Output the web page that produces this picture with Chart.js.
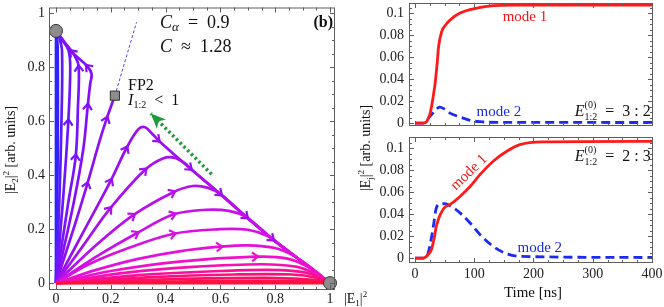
<!DOCTYPE html>
<html>
<head>
<meta charset="utf-8">
<script src="https://cdn.jsdelivr.net/npm/chart.js@4.4.1/dist/chart.umd.min.js"></script>
<style>
  html, body { margin: 0; padding: 0; background: #fff; }
  #wrap { position: relative; width: 664px; height: 307px; overflow: hidden; }
  canvas { position: absolute; }
</style>
</head>
<body>
<div id="wrap">
  <canvas id="flow" width="375" height="307" style="left:0;top:0"></canvas>
  <canvas id="top" width="289" height="132" style="left:375px;top:0"></canvas>
  <canvas id="bottom" width="289" height="175" style="left:375px;top:132px"></canvas>
</div>
<script>
const SERIF = '"Liberation Serif", "DejaVu Serif", serif';
const F = (size, style) => (style ? style + ' ' : '') + size + 'px ' + SERIF;

// tick labels
const phaseTicks = [0, 0.2, 0.4, 0.6, 0.8, 1];
const timeTicks = [0, 100, 200, 300, 400];
const powerTicks = [0, 0.02, 0.04, 0.06, 0.08, 0.1];

// left panel, phase plane (|E1|^2, |E2|^2)
const fixedPoints = [[0, 0.935], [1, 0]];
const saddleFP2 = [[0.215, 0.695]];
const fp2Guide = [[0.215, 0.695], [0.294, 0.967]];
const greenArrow = [[0.568, 0.404], [0.346, 0.629]];

// trajectories ending in mode 2
const up0 = [[0, 0], [0, 0.935]];
const up0b = [[0, 0], [0.006, 0.45], [0.006, 0.88], [0, 0.935]];
const up1 = [[0, 0], [0.012, 0.3], [0.02, 0.6], [0.022, 0.86], [0.012, 0.91], [0, 0.935]];
const up2 = [[0, 0], [0.025, 0.3], [0.045, 0.6], [0.052, 0.8], [0.045, 0.865], [0.02, 0.905], [0, 0.935]];
const up3 = [[0, 0], [0.045, 0.3], [0.072, 0.47], [0.08, 0.65], [0.083, 0.8], [0.07, 0.84], [0.03, 0.895], [0, 0.935]];
const up4 = [[0, 0], [0.065, 0.3], [0.1, 0.5], [0.116, 0.658], [0.125, 0.74], [0.13, 0.775], [0.114, 0.804], [0.057, 0.858], [0, 0.935]];
const toFP2 = [[0, 0], [0.07, 0.22], [0.114, 0.367], [0.16, 0.53], [0.185, 0.61], [0.215, 0.695]];

// trajectories ending in mode 1
const down1 = [[0, 0], [0.1, 0.19], [0.2, 0.38], [0.257, 0.5], [0.3, 0.57], [0.325, 0.578], [0.35, 0.555], [0.373, 0.53], [0.49, 0.425], [0.6, 0.33], [0.695, 0.245], [0.79, 0.163], [0.9, 0.078], [1, 0]];
const down2 = [[0, 0], [0.1, 0.14], [0.197, 0.276], [0.325, 0.42], [0.39, 0.462], [0.43, 0.465], [0.47, 0.445], [0.49, 0.425], [0.6, 0.33], [0.695, 0.245], [0.79, 0.163], [0.9, 0.078], [1, 0]];
const down3 = [[0, 0], [0.14, 0.135], [0.282, 0.252], [0.428, 0.337], [0.5, 0.36], [0.555, 0.353], [0.6, 0.33], [0.695, 0.245], [0.79, 0.163], [0.9, 0.078], [1, 0]];
const down4 = [[0, 0], [0.15, 0.1], [0.295, 0.185], [0.43, 0.255], [0.55, 0.272], [0.63, 0.268], [0.695, 0.245], [0.79, 0.163], [0.9, 0.078], [1, 0]];
const down5 = [[0, 0], [0.12, 0.07], [0.25, 0.125], [0.43, 0.183], [0.6, 0.2], [0.7, 0.198], [0.77, 0.175], [0.84, 0.125], [0.92, 0.062], [1, 0]];
const down6 = [[0, 0], [0.15, 0.05], [0.3, 0.09], [0.45, 0.118], [0.6, 0.135], [0.7, 0.14], [0.8, 0.13], [0.87, 0.1], [0.94, 0.05], [1, 0]];
const down7 = [[0, 0], [0.2, 0.045], [0.45, 0.08], [0.73, 0.098], [0.84, 0.092], [0.92, 0.06], [1, 0]];
const down8 = [[0, 0], [0.25, 0.038], [0.5, 0.06], [0.75, 0.07], [0.88, 0.06], [0.95, 0.032], [1, 0]];
const down9 = [[0, 0], [0.3, 0.03], [0.6, 0.045], [0.82, 0.048], [0.93, 0.034], [1, 0]];
const down10 = [[0, 0], [0.35, 0.022], [0.65, 0.032], [0.86, 0.032], [0.95, 0.02], [1, 0]];
const down11 = [[0, 0], [0.4, 0.014], [0.8, 0.019], [0.95, 0.011], [1, 0]];
const down12 = [[0, 0], [0.5, 0.007], [0.9, 0.008], [1, 0]];
const down13 = [[0, 0], [1, 0]];

// right panels, time traces
const topTime1 = [0, 14, 20, 25, 28, 31, 34, 37, 40, 45, 53, 60, 76, 104, 132, 170, 400];
const topMode1 = [0, 0, 0.0015, 0.0076, 0.015, 0.025, 0.036, 0.052, 0.07, 0.083, 0.09, 0.094, 0.1, 0.1045, 0.1067, 0.1072, 0.1073];
const topTime2 = [0, 14, 20, 28, 35, 42, 50, 59, 76, 93, 110, 140, 400];
const topMode2 = [0, 0, 0.003, 0.0076, 0.012, 0.0145, 0.0125, 0.009, 0.0055, 0.0024, 0.0012, 0.0006, 0.0005];
const botTime1 = [0, 14, 22, 28, 32, 36, 40, 45, 50, 60, 76, 93, 110, 132, 155, 177, 216, 400];
const botMode1 = [0, 0, 0.003, 0.008, 0.017, 0.029, 0.036, 0.042, 0.046, 0.049, 0.056, 0.065, 0.076, 0.088, 0.097, 0.103, 0.1055, 0.106];
const botTime2 = [0, 14, 20, 25, 31, 36, 42, 50, 59, 76, 93, 110, 132, 155, 177, 400];
const botMode2 = [0, 0, 0.0015, 0.0106, 0.0288, 0.0455, 0.049, 0.0494, 0.0476, 0.041, 0.0318, 0.0212, 0.0106, 0.0039, 0.0015, 0.0005];

// line styles for the flow lines (blue -> purple -> magenta -> red)
const flowLines = [
  [down13, '#ff1038', []], [down12, '#ff104c', []], [down11, '#ff1064', []], [down10, '#fe107c', []],
  [down9, '#fa1098', []], [down8, '#f610b4', []], [down7, '#ee10cc', [3]], [down6, '#e410dc', [4]],
  [down5, '#d810e2', [3]], [down4, '#c810e8', [2, 3]], [down3, '#b810ec', [2, 3]], [down2, '#a810ee', [2, 3]],
  [down1, '#9810ee', [2, 3, 7, 8, 9, 10, 11]],
  [toFP2, '#8c10f0', [2, 4]], [up4, '#8410fa', [3, 6, 7]], [up3, '#7812ff', [2, 4]],
  [up2, '#6c16ff', [2]], [up1, '#5a1cff', []], [up0b, '#3520ff', []], [up0, '#2424ff', []]
];

const toXY = p => ({ x: p[0], y: p[1] });
Chart.defaults.font.family = SERIF;

function drawRich(ctx, x, y, parts, align, color) {
  let cur = 0, start = 0;
  const xs = [];
  parts.forEach(p => {
    ctx.font = p.f;
    const w = ctx.measureText(p.t).width;
    if (p.stack) { xs.push(start); cur = Math.max(cur, start + w); }
    else { start = cur; xs.push(start); cur = start + w; }
  });
  const off = align === 'right' ? -cur : align === 'center' ? -cur / 2 : 0;
  ctx.fillStyle = color;
  ctx.textAlign = 'left';
  ctx.textBaseline = 'alphabetic';
  parts.forEach((p, i) => { ctx.font = p.f; ctx.fillText(p.t, x + off + xs[i], y + (p.dy || 0)); });
}

function notesPlugin(list) {
  return {
    id: 'notes',
    afterDraw(chart) {
      const ctx = chart.ctx, sx = chart.scales.x, sy = chart.scales.y;
      list.forEach(n => {
        const px = n.data ? sx.getPixelForValue(n.data[0]) : n.at[0];
        const py = n.data ? sy.getPixelForValue(n.data[1]) : n.at[1];
        ctx.save();
        ctx.translate(px, py);
        if (n.rot) ctx.rotate(n.rot);
        drawRich(ctx, 0, 0, n.parts, n.align, n.color || '#111');
        ctx.restore();
      });
    }
  };
}

// frame box with inward ticks on all four sides
function framePlugin(xStep, yStep, sub) {
  return {
    id: 'frame',
    afterDraw(chart) {
      const { ctx, chartArea: ca, scales } = chart;
      ctx.save();
      ctx.strokeStyle = '#5e5e5e';
      ctx.lineWidth = 1;
      ctx.strokeRect(ca.left + 0.5, ca.top + 0.5, ca.width - 1, ca.height - 1);
      ctx.beginPath();
      const mx = xStep / sub, my = yStep / sub;
      for (let k = Math.ceil(scales.x.min / mx); k * mx <= scales.x.max; k++) {
        const px = Math.round(scales.x.getPixelForValue(k * mx)) + 0.5;
        const len = k % sub === 0 ? 5 : 3;
        ctx.moveTo(px, ca.bottom); ctx.lineTo(px, ca.bottom - len);
        ctx.moveTo(px, ca.top); ctx.lineTo(px, ca.top + len);
      }
      for (let k = Math.ceil(scales.y.min / my); k * my <= scales.y.max; k++) {
        const py = Math.round(scales.y.getPixelForValue(k * my)) + 0.5;
        const len = k % sub === 0 ? 5 : 3;
        ctx.moveTo(ca.left, py); ctx.lineTo(ca.left + len, py);
        ctx.moveTo(ca.right, py); ctx.lineTo(ca.right - len, py);
      }
      ctx.stroke();
      ctx.restore();
    }
  };
}

// chevrons along flow lines, and the head of the green arrow
const arrowPlugin = {
  id: 'arrows',
  afterDatasetsDraw(chart) {
    const ctx = chart.ctx;
    chart.data.datasets.forEach((ds, i) => {
      const pts = chart.getDatasetMeta(i).data;
      ctx.save();
      if (ds.arrows) {
        ctx.strokeStyle = ds.borderColor;
        ctx.lineWidth = 2.2;
        ds.arrows.forEach(k => {
          const p = pts[k], a = pts[k - 1], b = pts[k + 1] || p;
          const ang = Math.atan2(b.y - a.y, b.x - a.x);
          ctx.save();
          ctx.translate(p.x, p.y);
          ctx.rotate(ang);
          ctx.beginPath();
          ctx.moveTo(-4, -4.5); ctx.lineTo(2, 0); ctx.lineTo(-4, 4.5);
          ctx.stroke();
          ctx.restore();
        });
      }
      if (ds.head) {
        const n = pts.length, tip = pts[n - 1], from = pts[n - 2];
        const ang = Math.atan2(tip.y - from.y, tip.x - from.x);
        ctx.translate(tip.x, tip.y);
        ctx.rotate(ang);
        ctx.fillStyle = ds.borderColor;
        ctx.beginPath();
        ctx.moveTo(0, 0); ctx.lineTo(-15, -6.5); ctx.lineTo(-11, 0); ctx.lineTo(-15, 6.5);
        ctx.closePath();
        ctx.fill();
      }
      ctx.restore();
    });
  }
};

function linScale(min, max, ticks, pad, fit, extra) {
  return Object.assign({
    type: 'linear', min: min, max: max,
    grid: { display: false, drawTicks: false },
    border: { display: false },
    afterBuildTicks: s => { s.ticks = ticks.map(v => ({ value: v })); },
    afterFit: fit,
    ticks: { padding: pad, font: { family: SERIF, size: 14 }, color: '#222', maxRotation: 0, autoSkip: false, callback: v => String(v) }
  }, extra || {});
}

// ---------- left: phase plane ----------
const flowSets = [
  { data: fixedPoints.map(toXY), showLine: false, pointRadius: 6.5, pointBackgroundColor: '#8c8c8c', pointBorderColor: '#333', pointBorderWidth: 1, clip: false },
  { data: saddleFP2.map(toXY), showLine: false, pointStyle: 'rect', pointRadius: 6.5, pointBackgroundColor: '#8c8c8c', pointBorderColor: '#333', pointBorderWidth: 1, clip: false },
  { data: fp2Guide.map(toXY), showLine: true, borderColor: '#6a3ce6', borderWidth: 1, borderDash: [3, 2], pointRadius: 0 },
  { data: greenArrow.map(toXY), showLine: true, borderColor: '#1f9a3c', borderWidth: 3.5, borderDash: [2.5, 2.8], pointRadius: 0, head: true }
];
flowLines.forEach(([pts, color, arrows]) => {
  flowSets.push({ data: pts.map(toXY), showLine: true, borderColor: color, borderWidth: 2.7, tension: 0.35, pointRadius: 0, arrows: arrows });
});

const leftNotes = [
  { data: [0.38, 0.945], parts: [{ t: 'C', f: F(18, 'italic') }, { t: 'α', f: F(13, 'italic'), dy: 3 }, { t: '  =  0.9', f: F(18) }] },
  { data: [0.38, 0.855], parts: [{ t: 'C', f: F(18, 'italic') }, { t: '  ≈  1.28', f: F(18) }] },
  { data: [1.011, 0.949], align: 'right', parts: [{ t: '(b)', f: F(16, 'bold') }] },
  { data: [0.263, 0.716], parts: [{ t: 'FP2', f: F(16) }] },
  { data: [0.263, 0.662], parts: [{ t: 'I', f: F(16, 'italic') }, { t: '1:2', f: F(10), dy: 3 }, { t: '  <  1', f: F(16) }] },
  { at: [344, 303], parts: [{ t: '|E', f: F(14) }, { t: '1', f: F(9), dy: 3 }, { t: '|', f: F(14) }, { t: '2', f: F(9), dy: -6 }] },
  { at: [15, 150], rot: -Math.PI / 2, align: 'center', parts: [{ t: '|E', f: F(14) }, { t: '2', f: F(9), dy: 3 }, { t: '|', f: F(14) }, { t: '2', f: F(9), dy: -6 }, { t: ' [arb. units]', f: F(14) }] },
  { at: [370, 148], rot: -Math.PI / 2, align: 'center', parts: [{ t: '|E', f: F(14) }, { t: 'j', f: F(9), dy: 3 }, { t: '|', f: F(14) }, { t: '2', f: F(9), dy: -6 }, { t: ' [arb. units]', f: F(14) }] }
];

new Chart(document.getElementById('flow'), {
  type: 'scatter',
  data: { datasets: flowSets },
  options: {
    responsive: false, animation: false, devicePixelRatio: 1,
    layout: { padding: { left: 9, right: 40, top: 2, bottom: 3 } },
    plugins: { legend: { display: false }, tooltip: { enabled: false } },
    scales: {
      x: linScale(-0.0255, 1.0182, phaseTicks, 1, s => { s.height = 14; s.paddingLeft = 0; s.paddingRight = 0; }),
      y: linScale(-0.0255, 1.0218, phaseTicks, 4, s => { s.width = 40; s.paddingTop = 0; s.paddingBottom = 0; })
    }
  },
  plugins: [arrowPlugin, framePlugin(0.2, 0.2, 4), notesPlugin(leftNotes)]
});

// ---------- right: time traces ----------
function traceSets(t1, m1, t2, m2) {
  const pts = (t, v) => t.map((x, i) => ({ x: x, y: v[i] }));
  return [
    { data: pts(t1, m1), showLine: true, borderColor: '#ff1a1a', borderWidth: 2.8, pointRadius: 0, cubicInterpolationMode: 'monotone' },
    { data: pts(t2, m2), showLine: true, borderColor: '#1a2cf0', borderWidth: 2.8, borderDash: [9, 5], pointRadius: 0, cubicInterpolationMode: 'monotone' }
  ];
}

function eLabel(ratio) {
  return [
    { t: 'E', f: F(16, 'italic') },
    { t: '(0)', f: F(10), dy: -8 },
    { t: '1:2', f: F(10), dy: 4, stack: true },
    { t: '  =  ' + ratio, f: F(16) }
  ];
}

const topNotes = [
  { data: [148, 0.0927], color: '#f01414', parts: [{ t: 'mode 1', f: F(15) }] },
  { data: [104, 0.0064], color: '#1a2ce0', parts: [{ t: 'mode 2', f: F(15) }] },
  { data: [398, 0.0064], align: 'right', parts: eLabel('3 : 2') }
];
const botNotes = [
  { data: [398, 0.0885], align: 'right', parts: eLabel('2 : 3') },
  { data: [90, 0.0785], rot: -0.77, align: 'center', color: '#f01414', parts: [{ t: 'mode 1', f: F(15), dy: 5 }] },
  { data: [173, 0.0057], color: '#1a2ce0', parts: [{ t: 'mode 2', f: F(15) }] },
  { at: [158, 165], align: 'center', parts: [{ t: 'Time [ns]', f: F(15) }] }
];

new Chart(document.getElementById('top'), {
  type: 'scatter',
  data: { datasets: traceSets(topTime1, topMode1, topTime2, topMode2) },
  options: {
    responsive: false, animation: false, devicePixelRatio: 1,
    layout: { padding: { left: 2, right: 11, top: 3, bottom: 6 } },
    plugins: { legend: { display: false }, tooltip: { enabled: false } },
    scales: {
      x: linScale(-10.1, 401.7, timeTicks, 3, s => { s.paddingLeft = 0; s.paddingRight = 0; }, { display: false }),
      y: linScale(-0.0027, 0.1091, powerTicks, 5, s => { s.width = 32; s.paddingTop = 0; s.paddingBottom = 0; })
    }
  },
  plugins: [framePlugin(100, 0.02, 4), notesPlugin(topNotes)]
});

new Chart(document.getElementById('bottom'), {
  type: 'scatter',
  data: { datasets: traceSets(botTime1, botMode1, botTime2, botMode2) },
  options: {
    responsive: false, animation: false, devicePixelRatio: 1,
    layout: { padding: { left: 2, right: 11, top: 5, bottom: 4 } },
    plugins: { legend: { display: false }, tooltip: { enabled: false } },
    scales: {
      x: linScale(-10.1, 401.7, timeTicks, 3, s => { s.height = 40; s.paddingLeft = 0; s.paddingRight = 0; }),
      y: linScale(-0.0045, 0.11, powerTicks, 5, s => { s.width = 32; s.paddingTop = 0; s.paddingBottom = 0; })
    }
  },
  plugins: [framePlugin(100, 0.02, 4), notesPlugin(botNotes)]
});
</script>
</body>
</html>
